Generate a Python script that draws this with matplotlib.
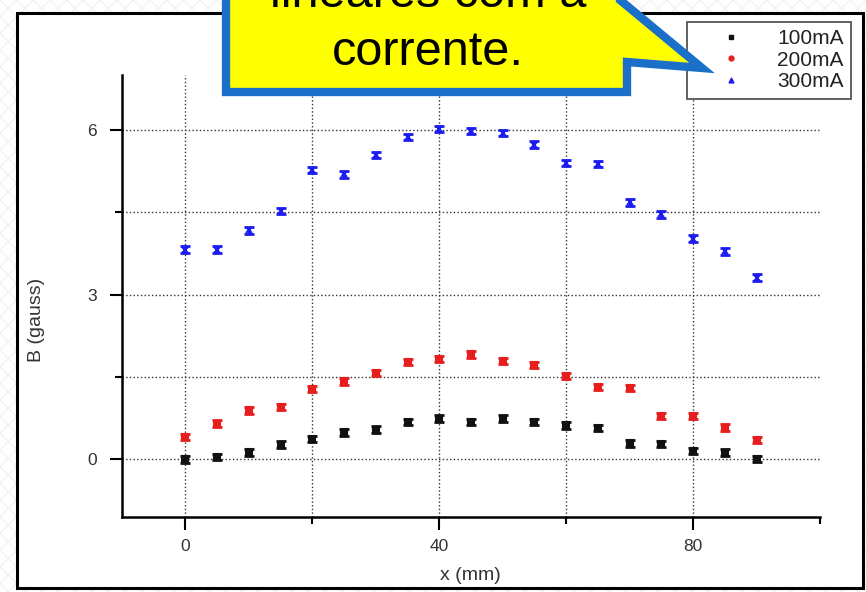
import matplotlib
matplotlib.use('Agg')
import matplotlib.pyplot as plt
from matplotlib.patches import Rectangle, Polygon
from matplotlib.lines import Line2D
from matplotlib.ticker import FixedLocator

plt.rcParams['font.family'] = ['Liberation Sans', 'DejaVu Sans']

# posicao (mm) e campo B (gauss) para cada corrente
x_mm = [0, 5, 10, 15, 20, 25, 30, 35, 40, 45, 50, 55, 60, 65, 70, 75, 80, 85, 90]
b_100 = [0.00, 0.04, 0.13, 0.27, 0.37, 0.49, 0.54, 0.68, 0.74, 0.68, 0.74, 0.68,
         0.62, 0.57, 0.29, 0.28, 0.15, 0.12, 0.01]
b_200 = [0.41, 0.65, 0.89, 0.95, 1.28, 1.42, 1.57, 1.77, 1.83, 1.91, 1.79, 1.72,
         1.52, 1.32, 1.30, 0.79, 0.79, 0.58, 0.35]
b_300 = [3.82, 3.82, 4.17, 4.52, 5.27, 5.19, 5.54, 5.87, 6.02, 5.98, 5.94, 5.73,
         5.40, 5.38, 4.68, 4.46, 4.02, 3.79, 3.31]
err = 0.06
labels = ['100mA', '200mA', '300mA']
colors = ['#111111', '#e81e1e', '#1c1cf0']
markers = ['s', 'o', '^']

W, H = 866, 592
fig = plt.figure(figsize=(W / 100, H / 100), dpi=100)

def fx(px):
    return px / W

def fy(py):
    return 1 - py / H

# fundo do slide e moldura
fig.add_artist(Rectangle((0, 0), 1, 1, transform=fig.transFigure, facecolor='white',
                         edgecolor='#f3f3f3', hatch='xx', linewidth=0, zorder=-10))
fig.add_artist(Rectangle((fx(17), fy(588)), fx(863) - fx(17), fy(13) - fy(588),
                         transform=fig.transFigure, facecolor='white', edgecolor='black',
                         linewidth=2.2, zorder=-5))

ax = fig.add_axes([fx(122), fy(517), fx(820) - fx(122), fy(75) - fy(517)])
ax.set_facecolor('none')

for y, c in zip([b_100, b_200, b_300], colors):
    ax.errorbar(x_mm, y, yerr=err, fmt='none', ecolor=c, elinewidth=2.2,
                capsize=3.5, capthick=2.0, zorder=3)
    ax.plot(x_mm, y, 'x' if c == colors[2] else 's', color=c, ms=4, mew=1.5,
            linestyle='none', zorder=4)

ax.set_xlim(-10, 100)
ax.set_ylim(-1.05, 7)
ax.set_xticks([0, 40, 80])
ax.xaxis.set_minor_locator(FixedLocator([20, 60, 100]))
ax.set_yticks([0, 3, 6])
ax.yaxis.set_minor_locator(FixedLocator([1.5, 4.5]))
ax.grid(True, which='both', linestyle=':', color='#333333', linewidth=1.0)
ax.xaxis.get_minor_ticks()[2].gridline.set_visible(False)

for s in ['top', 'right']:
    ax.spines[s].set_visible(False)
ax.spines['left'].set_linewidth(1.8)
ax.spines['bottom'].set_linewidth(1.8)
ax.tick_params(which='major', length=9, width=1.5, labelsize=12.5, labelcolor='#333333')
ax.tick_params(axis='x', which='major', pad=7)
ax.tick_params(axis='y', which='major', pad=9)
ax.tick_params(which='minor', length=5, width=1.5)

ax.set_xlabel('x (mm)', fontsize=14, color='#333333')
ax.xaxis.set_label_coords((470 - 122) / (820 - 122), -(567 - 517) / (517 - 75))
ax.set_ylabel('B (gauss)', fontsize=14, color='#333333')
ax.yaxis.set_label_coords(-(122 - 45) / (820 - 122), (517 - 320) / (517 - 75))

handles = [Line2D([], [], marker=m, color=c, linestyle='none', ms=3.5)
           for m, c in zip(markers, colors)]
leg = ax.legend(handles, labels, loc='upper right', bbox_to_anchor=(fx(851), fy(22)),
                bbox_transform=fig.transFigure, borderaxespad=0, fancybox=False,
                fontsize=15, handletextpad=0.4, labelspacing=0.12, borderpad=0.35,
                handlelength=3.6, framealpha=1)
leg.get_frame().set_edgecolor('#555555')
leg.get_frame().set_linewidth(1.3)
for t in leg.get_texts():
    t.set_color('#222222')

# balao amarelo do slide
pts = [(226, -60), (620, -60), (620, 0), (702, 68), (627, 62), (627, 92), (226, 92)]
fig.add_artist(Polygon([(fx(a), fy(b)) for a, b in pts], closed=True,
                       transform=fig.transFigure, facecolor='#ffff00',
                       edgecolor='#1a6fc9', linewidth=6, joinstyle='miter',
                       clip_on=False, zorder=10))
fig.text(fx(428), fy(7), 'lineares com a', ha='center', va='baseline',
         fontsize=35, color='black', zorder=11)
fig.text(fx(428), fy(65), 'corrente.', ha='center', va='baseline',
         fontsize=35, color='black', zorder=11)

fig.savefig('out.png', dpi=100)
